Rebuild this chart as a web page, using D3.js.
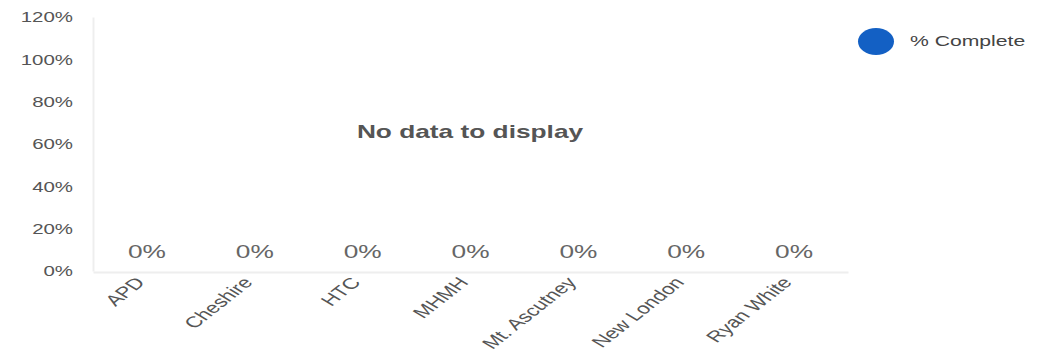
<!DOCTYPE html>
<html><head><meta charset="utf-8">
<script src="https://cdn.jsdelivr.net/npm/d3@7"></script>
<style>body{margin:0;background:#fff}svg{display:block}text{font-family:"Liberation Sans",Arial,sans-serif}</style>
</head><body><svg id="c" width="1050" height="358"></svg>
<script>
const categories = ["APD","Cheshire","HTC","MHMH","Mt. Ascutney","New London","Ryan White"];
const values = [0,0,0,0,0,0,0];
const yTicks = [0,0.2,0.4,0.6,0.8,1.0,1.2];
const seriesName = "% Complete";
const noDataText = "No data to display";

const S = 1.46; // horizontal text stretch seen in the reference
const svg = d3.select("#c");
const m = {l:93, r:848, t:17, b:271};
const x = d3.scaleBand().domain(categories).range([m.l, m.r]);
const y = d3.scaleLinear().domain([0,1.2]).range([m.b, m.t]);
const fmt = d3.format(".0%");

// y axis
const ya = svg.append("g").attr("transform",`translate(${m.l},0)`)
  .call(d3.axisLeft(y).tickValues(yTicks).tickFormat(fmt).tickSize(0).tickPadding(20));
ya.select(".domain").attr("stroke","#eee").attr("stroke-width",2);
ya.selectAll(".tick text").attr("fill","#555").style("font-size","14px")
  .attr("x",0).attr("dy","0.35em").attr("transform",`translate(-20,0) scale(${S},1)`);

// x axis
const xa = svg.append("g").attr("transform",`translate(0,${m.b+1})`)
  .call(d3.axisBottom(x).tickSize(0).tickPadding(0));
xa.select(".domain").attr("stroke","#eee").attr("stroke-width",2);
xa.selectAll(".tick text").attr("fill","#555").style("font-size","15.5px")
  .attr("text-anchor","end").attr("dy","0").attr("y",0)
  .attr("transform",`translate(-1,11) scale(${S},1) rotate(-49)`);

// bars (zero height)
svg.append("g").selectAll("rect").data(values).join("rect")
  .attr("x",(d,i)=>x(categories[i])+x.bandwidth()*0.2).attr("width",x.bandwidth()*0.6)
  .attr("y",d=>y(d)).attr("height",d=>y(0)-y(d)).attr("fill","#1565c0");

// data labels
svg.append("g").selectAll("text").data(values).join("text")
  .attr("transform",(d,i)=>`translate(${x(categories[i])+x.bandwidth()/2},${y(d)-13}) scale(${S},1)`)
  .attr("text-anchor","middle").attr("fill","#666").style("font-size","18px").text(d=>fmt(d));

// no data
svg.append("text").attr("transform",`translate(470,138) scale(${S},1)`).attr("text-anchor","middle")
  .attr("fill","#555").style("font-size","18px").style("font-weight","bold").text(noDataText);

// legend
svg.append("ellipse").attr("cx",876).attr("cy",41.5).attr("rx",18).attr("ry",13.5).attr("fill","#1360c4");
svg.append("text").attr("transform",`translate(910,46) scale(${S},1)`).attr("fill","#444").style("font-size","14.5px").text(seriesName);
</script></body></html>
